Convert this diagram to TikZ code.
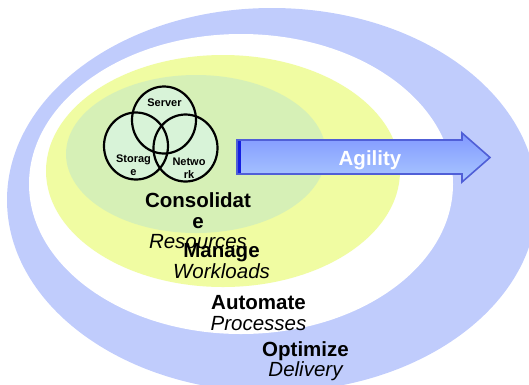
\documentclass[tikz,border=0pt]{standalone}
\usepackage{fontspec}
\setmainfont{Liberation Sans}
\definecolor{ringblue}{RGB}{192,204,252}
\definecolor{ylw}{RGB}{240,252,162}
\definecolor{grn}{RGB}{214,240,182}
\definecolor{mint}{RGB}{216,243,216}
\definecolor{arrdark}{RGB}{20,30,225}
\definecolor{arrmid}{RGB}{75,108,255}
\definecolor{arrlight}{RGB}{170,200,255}
\definecolor{arredge}{RGB}{80,95,215}
\newcommand\subtxt[1]{{\mdseries\itshape #1}}
\begin{document}
\begin{tikzpicture}[x=1pt,y=-1pt,
  lbl/.style={align=center, inner sep=0pt, font=\fontsize{20.5}{20.5}\selectfont\bfseries},
  venn/.style={align=center, inner sep=0pt, font=\fontsize{11}{13}\selectfont\bfseries},
  vcirc/.style={draw=black, line width=2.2pt}]
\useasboundingbox (0,0) rectangle (529,384);
% rings
\fill[ringblue] (272,200) ellipse [x radius=265pt, y radius=192pt];
\fill[white] (241,184) ellipse [x radius=212pt, y radius=150pt];
\fill[ylw] (223,171) ellipse [x radius=177pt, y radius=116pt];
\fill[grn] (196,154) ellipse [x radius=130pt, y radius=79pt];
% venn
\fill[mint] (164,120) ellipse [x radius=32pt, y radius=33.5pt];
\fill[mint] (136,146) ellipse [x radius=32pt, y radius=33.5pt];
\fill[mint] (185.5,148) ellipse [x radius=32pt, y radius=33.5pt];
\draw[vcirc] (164,120) ellipse [x radius=32pt, y radius=33.5pt];
\draw[vcirc] (136,146) ellipse [x radius=32pt, y radius=33.5pt];
\draw[vcirc] (185.5,148) ellipse [x radius=32pt, y radius=33.5pt];
\node[venn] (server) at (164.5,103) {Server};
\node[venn] (storage) at (133.5,165) {Storag\\e};
\node[venn] (network) at (189,168) {Netwo\\rk};
% arrow
\shade[top color=arrmid!70!white, middle color=arrmid, bottom color=arrlight]
  (237,140) -- (462,140) -- (462,133) -- (490,157.5) -- (462,182) -- (462,174) -- (237,174) -- cycle;
\fill[arrdark] (237,140) rectangle (240.5,174);
\draw[arredge, line width=1.6pt, line join=miter]
  (237,140) -- (462,140) -- (462,133) -- (490,157.5) -- (462,182) -- (462,174) -- (237,174) -- cycle;
\node[lbl, text=white] (agility) at (370,160) {Agility};
% labels
\node[lbl] (consolidate) at (198,221) {Consolidat\\e\\\subtxt{Resources}};
\node[lbl] (manage) at (221.5,261) {Manage\\\subtxt{Workloads}};
\node[lbl] (automate) at (258.5,313) {Automate\\\subtxt{Processes}};
\node[lbl] (optimize) at (305.5,361) {Optimize\\\subtxt{Delivery}};
\end{tikzpicture}
\end{document}
